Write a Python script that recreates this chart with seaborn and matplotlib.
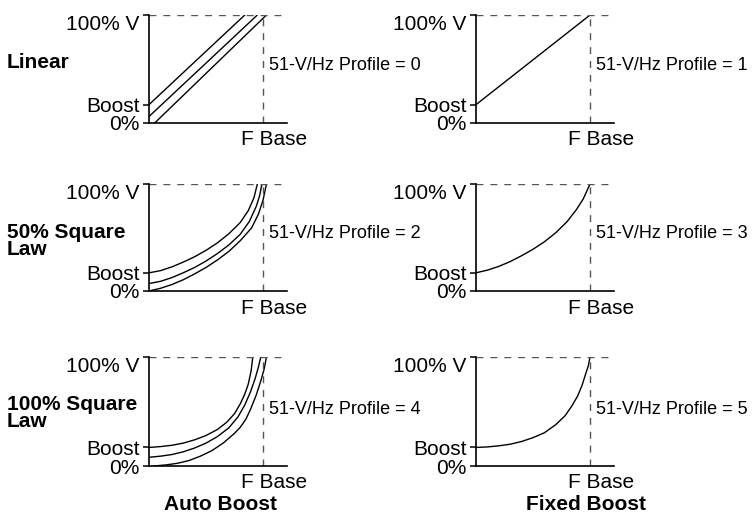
import matplotlib
matplotlib.use("Agg")
import matplotlib.pyplot as plt
import seaborn as sns

W, H = 755, 513

# --- data (x: % of F Base, y: % of V) ---
boost_level = 17
ytick_vals = [0, boost_level, 100]
ytick_labels = ["0%", "Boost", "100% V"]

row_labels = ["Linear", "50% Square\nLaw", "100% Square\nLaw"]
column_labels = ["Auto Boost", "Fixed Boost"]
profile_numbers = [[0, 1], [2, 3], [4, 5]]

# Linear
lin_auto_x = [[0, 84], [0, 95], [5, 103]]
lin_auto_y = [[17, 100], [6, 100], [0, 100]]
lin_fixed_x = [0, 100]
lin_fixed_y = [17, 100]

# 50% square law
sq50_auto_x = [
    [0, 10, 20, 30, 40, 50, 60, 70, 80, 87, 92, 95],
    [0, 10, 20, 30, 40, 50, 60, 70, 80, 88, 94, 97, 99],
    [0, 10, 20, 30, 40, 50, 60, 70, 80, 90, 96, 100, 103],
]
sq50_auto_y = [
    [17, 19, 22.5, 27, 32, 38, 45, 53.5, 64, 75, 87, 100],
    [7, 9, 12.5, 17, 22, 28, 35, 43, 53, 65, 79, 89, 100],
    [0, 2.5, 6, 10.5, 16, 22, 29, 37, 47, 59, 72, 85, 100],
]
sq50_fixed_x = [0, 10, 20, 30, 40, 50, 60, 70, 80, 88, 94, 100]
sq50_fixed_y = [17, 19.5, 23, 27.5, 33, 39, 46, 54.5, 65, 76, 86, 100]

# 100% square law
sq100_auto_x = [
    [0, 10, 20, 30, 40, 50, 60, 68, 75, 80, 84, 87, 89.5, 91],
    [0, 10, 20, 30, 40, 50, 60, 70, 78, 84, 89, 93, 96, 98],
    [4, 15, 25, 35, 45, 55, 65, 75, 80, 85, 89, 94, 98, 101, 103],
]
sq100_auto_y = [
    [17, 17.8, 19, 21, 24, 28, 33.5, 40, 48, 57, 66, 75, 87, 100],
    [8, 9, 10.5, 13, 16.5, 21, 27, 35, 45, 56, 68, 80, 91, 100],
    [0, 1, 2.5, 5, 9, 14, 21, 30, 35.5, 43, 52, 65, 78, 89, 100],
]
sq100_fixed_x = [0, 10, 20, 30, 40, 50, 60, 70, 78, 84, 89, 93, 96, 98.5, 100]
sq100_fixed_y = [17, 17.5, 18.5, 20, 22.5, 26, 30.5, 38, 46, 55, 64, 74, 84, 92, 100]

auto_x = [lin_auto_x, sq50_auto_x, sq100_auto_x]
auto_y = [lin_auto_y, sq50_auto_y, sq100_auto_y]
fixed_x = [lin_fixed_x, sq50_fixed_x, sq100_fixed_x]
fixed_y = [lin_fixed_y, sq50_fixed_y, sq100_fixed_y]

sns.set_theme(style="white")
plt.rcParams["font.family"] = ["Liberation Sans", "DejaVu Sans"]
plt.rcParams["text.color"] = "black"
plt.rcParams["ytick.color"] = "black"
plt.rcParams["xtick.color"] = "black"

fig = plt.figure(figsize=(W / 100, H / 100), dpi=100)

col_left = [149, 476]
panel_w = 138
row_top = [15, 184, 357]
row_bottom = [123, 291, 466]


def draw_panel(ax, curves_x, curves_y, profile):
    for cx, cy in zip(curves_x, curves_y):
        sns.lineplot(x=cx, y=cy, ax=ax, color="black", lw=1.0, sort=False)
    ax.set_xlim(0, 121)
    ax.set_ylim(0, 100)
    ax.axhline(100, color="#555555", lw=1.0, dashes=(5, 5))
    ax.plot([100, 100], [0, 100], color="#555555", lw=1.0, dashes=(5, 5))
    for side in ["top", "right"]:
        ax.spines[side].set_visible(False)
    for side in ["left", "bottom"]:
        ax.spines[side].set_color("black")
        ax.spines[side].set_linewidth(1.2)
    ax.set_xticks([])
    ax.set_yticks(ytick_vals)
    ax.set_yticklabels(ytick_labels)
    ax.tick_params(axis="y", direction="out", length=4, width=1.1, pad=3,
                   labelsize=15, color="black", labelcolor="black", left=True)
    labels = ax.get_yticklabels()
    labels[2].set_va("top")
    ax.annotate("F Base", xy=(100, 0), xytext=(11, -17), textcoords="offset pixels",
                ha="center", va="center", fontsize=15, color="black")
    ax.annotate(f"51-V/Hz Profile = {profile}", xy=(100, 0), xytext=(6, 57),
                textcoords="offset pixels", ha="left", va="center", fontsize=13,
                color="black")
    ax.set_facecolor("white")


for r in range(3):
    for c in range(2):
        ax = fig.add_axes([col_left[c] / W, 1 - row_bottom[r] / H,
                           panel_w / W, (row_bottom[r] - row_top[r]) / H])
        if c == 0:
            draw_panel(ax, auto_x[r], auto_y[r], profile_numbers[r][c])
        else:
            draw_panel(ax, [fixed_x[r]], [fixed_y[r]], profile_numbers[r][c])

# row labels on the left
row_label_y = [62, 241, 413]
for label, y in zip(row_labels, row_label_y):
    fig.text(7 / W, 1 - y / H, label, ha="left", va="center", fontsize=15,
             fontweight="bold", linespacing=0.85, color="black")

# column labels at the bottom
col_label_x = [220, 586]
for label, x in zip(column_labels, col_label_x):
    fig.text(x / W, 1 - 505 / H, label, ha="center", va="center", fontsize=15,
             fontweight="bold", color="black")

fig.savefig("out.png", dpi=100, facecolor="white")
